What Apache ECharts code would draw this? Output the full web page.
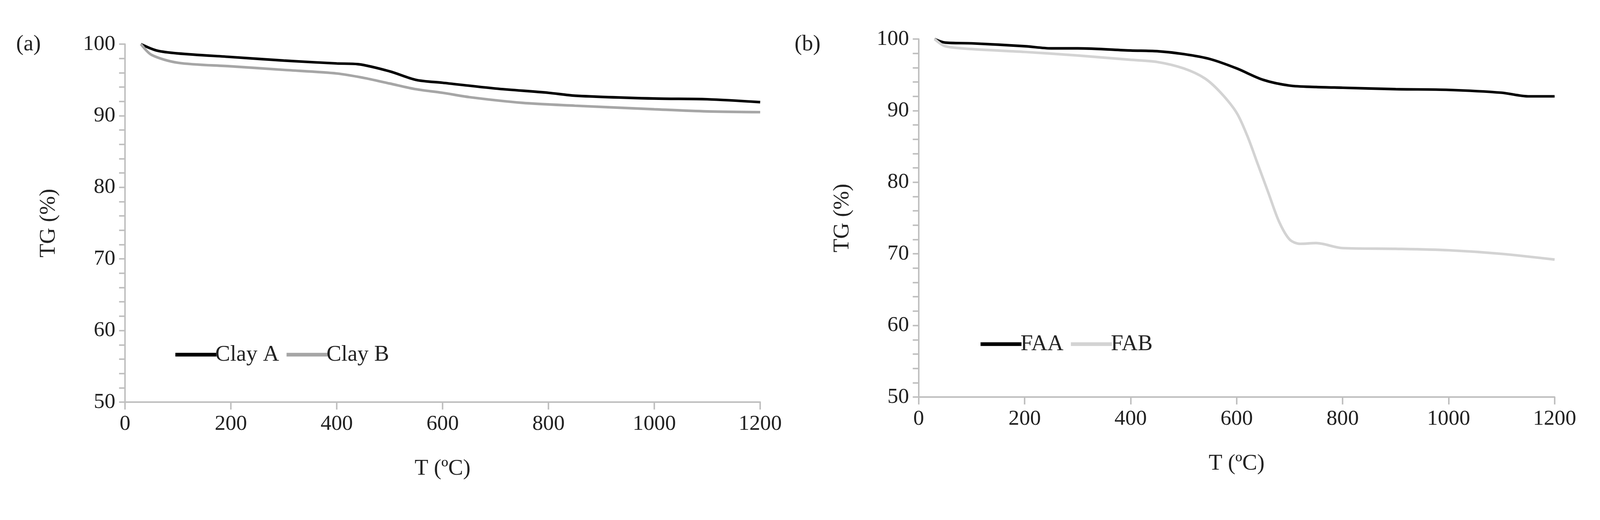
<!DOCTYPE html><html><head><meta charset="utf-8"><script src="https://cdn.jsdelivr.net/npm/echarts@6/dist/echarts.min.js"></script>
<style>html,body{margin:0;background:#fff;overflow:hidden}#c{width:100vw;height:100vh}</style></head><body><div id="c"></div><script>
const clayA=[[30,100],[60,99.1],[100,98.7],[200,98.2],[300,97.7],[400,97.3],[440,97.2],[500,96.2],[550,95.0],[600,94.6],[700,93.8],[800,93.2],[850,92.8],[1000,92.4],[1100,92.3],[1200,91.9]];
const clayB=[[30,100],[50,98.5],[100,97.4],[200,96.9],[300,96.4],[400,95.9],[450,95.3],[500,94.5],[550,93.7],[600,93.2],[650,92.6],[750,91.8],[850,91.4],[1000,90.9],[1100,90.6],[1200,90.5]];
const faa=[[30,100],[50,99.5],[100,99.4],[200,99.0],[250,98.7],[300,98.7],[400,98.4],[450,98.3],[500,97.9],[550,97.2],[600,95.9],[650,94.3],[700,93.5],[750,93.3],[800,93.2],[900,93.0],[1000,92.9],[1100,92.5],[1150,92.0],[1200,92.0]];
const fab=[[30,100],[50,99.0],[100,98.6],[200,98.2],[300,97.7],[400,97.1],[450,96.8],[500,95.9],[540,94.5],[570,92.5],[600,89.7],[620,86.5],[640,82.5],[660,78.5],[680,74.5],[700,72.0],[720,71.4],[750,71.5],[800,70.8],[900,70.7],[1000,70.5],[1100,70.0],[1200,69.2]];
const el=document.getElementById('c');
const W=el.clientWidth, H=el.clientHeight;
const k=Math.min(W/4300,H/1332);
const px=v=>v*W/4300, py=v=>v*H/1332, f=v=>v*k;
const F='Liberation Serif';
const ax='#bfbfbf';
function xA(i){return {type:'value',gridIndex:i,min:0,max:1200,interval:200,name:'T (ºC)',nameLocation:'middle',nameGap:f(150),
 nameTextStyle:{fontFamily:F,fontSize:f(60),color:'#222'},axisLine:{lineStyle:{color:ax,width:f(4)}},axisTick:{length:f(20),lineStyle:{color:ax,width:f(4)}},
 axisLabel:{fontFamily:F,fontSize:f(58),color:'#222',margin:f(30),formatter:v=>String(v)},splitLine:{show:false}};}
function yA(i){return {type:'value',gridIndex:i,min:50,max:100,interval:10,name:'TG (%)',nameLocation:'middle',nameGap:f(175),
 nameTextStyle:{fontFamily:F,fontSize:f(60),color:'#222'},axisLine:{show:true,lineStyle:{color:ax,width:f(4)}},axisTick:{show:true,length:f(16),lineStyle:{color:ax,width:f(4)}},
 minorTick:{show:true,splitNumber:5,length:f(16),lineStyle:{color:ax,width:f(4)}},
 axisLabel:{fontFamily:F,fontSize:f(58),color:'#222',margin:f(26)},splitLine:{show:false}};}
function s(n,d,c,i){return {name:n,type:'line',xAxisIndex:i,yAxisIndex:i,data:d,symbol:'none',smooth:0.3,lineStyle:{color:c,width:f(7)},itemStyle:{color:c}};}
function lg(d,l,t){return {data:d,left:px(l),top:py(t),itemWidth:f(110),itemHeight:f(10),itemGap:f(20),textStyle:{fontFamily:F,fontSize:f(60),color:'#222',padding:[0,0,0,f(-8)]},icon:'rect'};}
echarts.init(el).setOption({
 animation:false,
 title:[{text:'(a)',left:px(38),top:py(80),textStyle:{fontFamily:F,fontSize:f(60),fontWeight:'normal',color:'#222'}},
        {text:'(b)',left:px(2130),top:py(80),textStyle:{fontFamily:F,fontSize:f(60),fontWeight:'normal',color:'#222'}}],
 grid:[{left:px(336),top:py(113),width:px(1707),height:py(917)},{left:px(2469),top:py(100),width:px(1709),height:py(917)}],
 xAxis:[xA(0),xA(1)],yAxis:[yA(0),yA(1)],
 legend:[lg(['Clay A','Clay B'],466,875),lg(['FAA','FAB'],2630,848)],
 series:[s('Clay A',clayA,'#000',0),s('Clay B',clayB,'#a6a6a6',0),s('FAA',faa,'#000',1),s('FAB',fab,'#d3d3d3',1)]
});
</script></body></html>
